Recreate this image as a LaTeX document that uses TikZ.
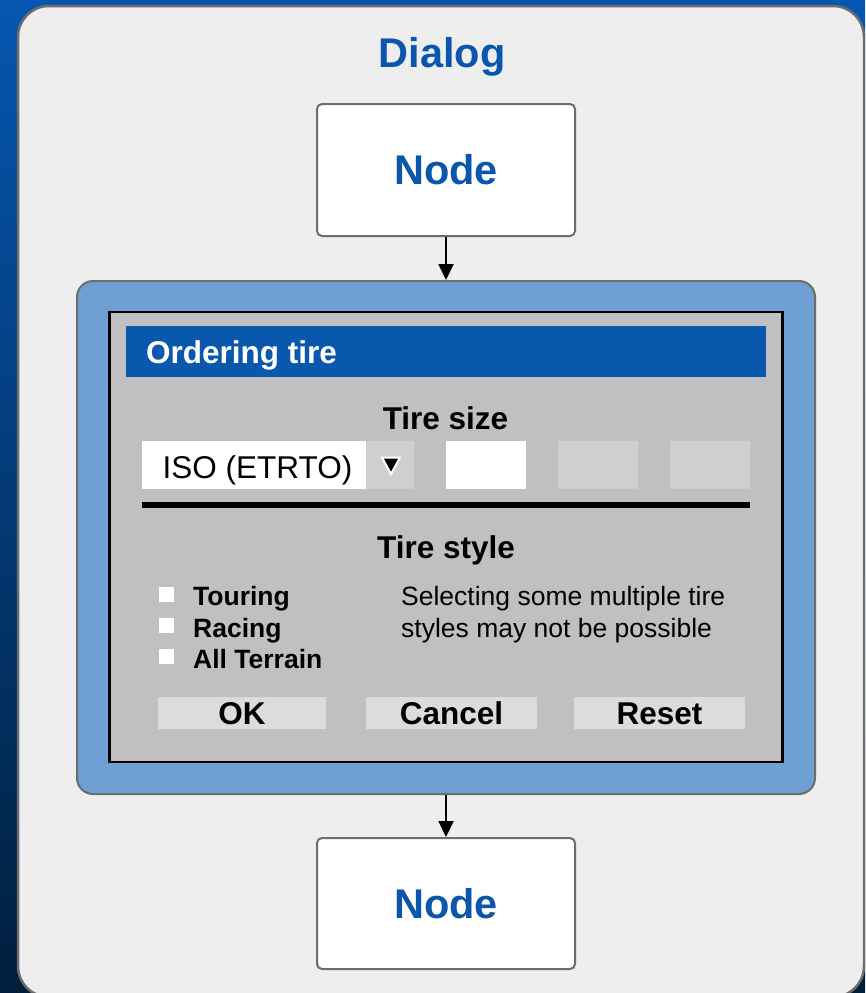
\documentclass[tikz,border=0pt]{standalone}
\usepackage{fontspec}
\setmainfont{Liberation Sans}
\usetikzlibrary{arrows.meta}
\definecolor{bgtop}{HTML}{0656B0}
\definecolor{bgbot}{HTML}{001E3C}
\definecolor{panelfill}{HTML}{EEEEEE}
\definecolor{panelborder}{HTML}{6D6D6D}
\definecolor{textblue}{HTML}{0A56AD}
\definecolor{contblue}{HTML}{6FA0D4}
\definecolor{dlggray}{HTML}{C0C0C0}
\definecolor{barblue}{HTML}{0A58AE}
\definecolor{boxgray}{HTML}{CFCFCF}
\definecolor{btngray}{HTML}{DCDCDC}
\tikzset{
  panelbox/.style={draw=panelborder, line width=2.5pt, fill=panelfill, rounded corners=31pt, inner sep=0pt},
  flownode/.style={draw=panelborder, line width=2pt, fill=white, rounded corners=5pt, inner sep=0pt,
    minimum width=258pt, minimum height=132pt, text=textblue, font=\fontsize{41.5pt}{48pt}\selectfont\bfseries},
  container/.style={draw=panelborder, line width=2pt, fill=contblue, rounded corners=16pt, inner sep=0pt},
  dlgframe/.style={draw=black, line width=2.5pt, fill=dlggray, inner sep=0pt},
  flat/.style={inner sep=0pt, outer sep=0pt},
  bigtxt/.style={font=\fontsize{31.5pt}{36pt}\selectfont\bfseries},
  midtxt/.style={font=\fontsize{31.5pt}{36pt}\selectfont},
  smallb/.style={font=\fontsize{26.5pt}{30pt}\selectfont\bfseries, anchor=base west, inner sep=0pt},
  smallr/.style={font=\fontsize{26.5pt}{30pt}\selectfont, anchor=base west, inner sep=0pt},
  chk/.style={flat, fill=white, minimum width=15pt, minimum height=15pt},
  field/.style={flat, minimum height=48pt},
  btn/.style={flat, fill=btngray, minimum height=32pt, bigtxt, text height=22.5pt, text depth=0pt},
  flowarrow/.style={draw=black, line width=2pt, -{Triangle[length=16pt,width=15pt]}}
}
\begin{document}
\begin{tikzpicture}[x=1pt,y=-1pt]
\useasboundingbox (0,0) rectangle (865,993);
\clip (0,0) rectangle (865,993);
\shade[top color=bgtop, bottom color=bgbot] (0,0) rectangle (865,993);

% outer panel
\node[panelbox, minimum width=846pt, minimum height=991pt] (panel) at (441,501.5) {};
\node[text=textblue, font=\fontsize{41.5pt}{48pt}\selectfont\bfseries, anchor=base, inner sep=0pt] (title) at (442,67) {Dialog};

% flow nodes
\node[flownode] (n1) at (446,170) {Node};
\node[container, minimum width=738pt, minimum height=513pt] (cont) at (446,537.5) {};
\node[flownode, minimum height=131pt] (n2) at (446,903.5) {Node};

\draw[flowarrow] (n1.south) -- (cont.north);
\draw[flowarrow] (cont.south) -- (n2.north);

% dialog window
\node[dlgframe, minimum width=673pt, minimum height=450pt] (dlg) at (446,537) {};
\node[flat, fill=barblue, minimum width=640pt, minimum height=51pt] (bar) at (446,351.5) {};
\node[bigtxt, text=white, anchor=base west, inner sep=0pt] (bartext) at (146,363) {Ordering tire};

% tire size
\node[bigtxt, anchor=base, inner sep=0pt] (sizelbl) at (445.5,429) {Tire size};
\node[field, fill=white, minimum width=224pt] (drop) at (254,465) {};
\node[field, fill=boxgray, minimum width=48pt] (dropbtn) at (390,465) {};
\node[midtxt, anchor=base west, inner sep=0pt] (iso) at (162.5,478) {ISO (ETRTO)};
\filldraw[fill=black, draw=white, line width=2pt, line join=miter] (382,457.5) -- (400,457.5) -- (391,474) -- cycle;
\node[field, fill=white, minimum width=80pt] (f1) at (486,465) {};
\node[field, fill=boxgray, minimum width=80pt] (f2) at (598,465) {};
\node[field, fill=boxgray, minimum width=80pt] (f3) at (710,465) {};
\draw[line width=6pt] (142,505) -- (750,505);

% tire style
\node[bigtxt, anchor=base, inner sep=0pt] (stylelbl) at (446,558) {Tire style};
\node[chk] (c1) at (166.5,594.5) {};
\node[chk] (c2) at (166.5,625.5) {};
\node[chk] (c3) at (166.5,656.5) {};
\node[smallb] (l1) at (193,605) {Touring};
\node[smallb] (l2) at (193,637) {Racing};
\node[smallb] (l3) at (193,668) {All Terrain};
\node[smallr] (note1) at (401,605) {Selecting some multiple tire};
\node[smallr] (note2) at (401,637) {styles may not be possible};

% buttons
\node[btn, minimum width=168pt] (ok) at (242,713) {OK};
\node[btn, minimum width=171pt] (cancel) at (451.5,713) {Cancel};
\node[btn, minimum width=171pt] (reset) at (659.5,713) {Reset};
\end{tikzpicture}
\end{document}
